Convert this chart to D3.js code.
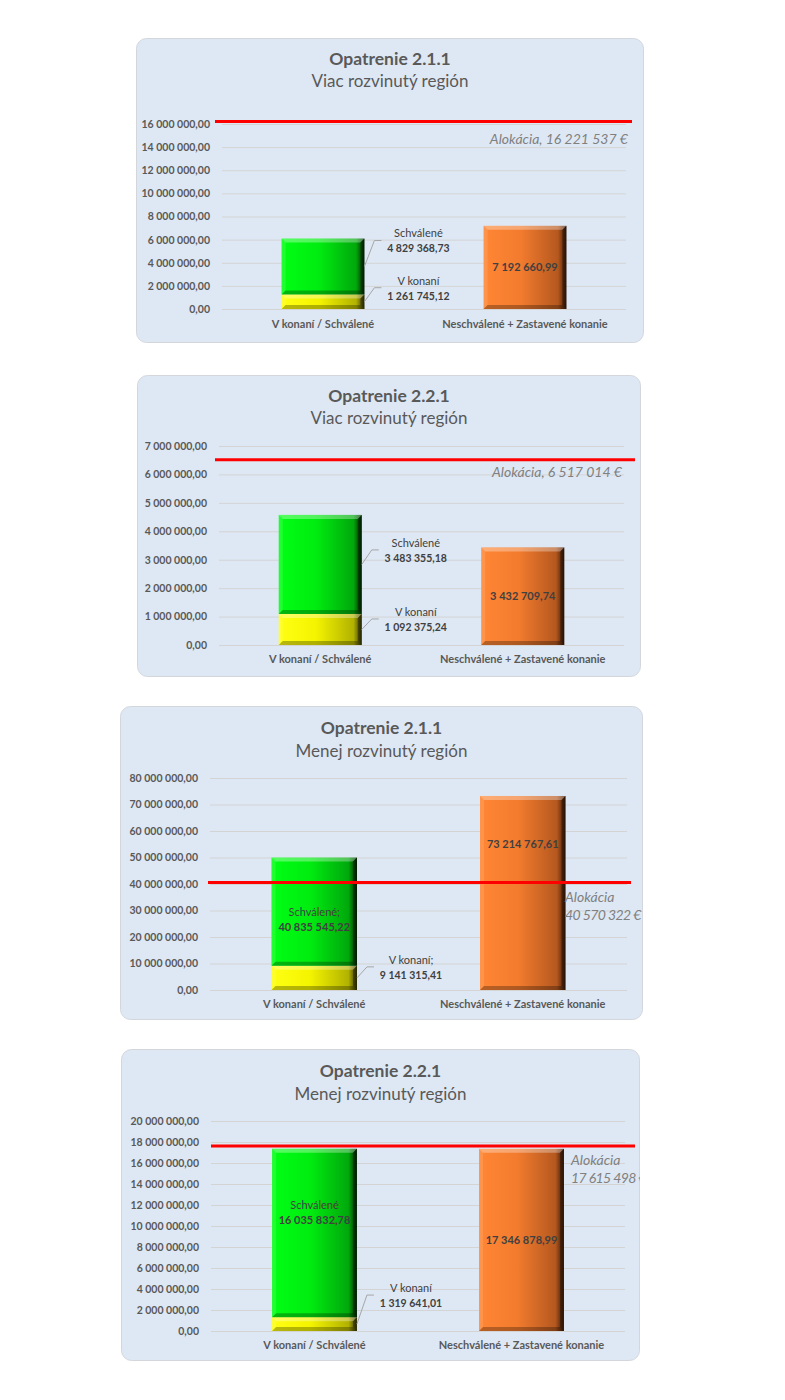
<!DOCTYPE html>
<html>
<head>
<meta charset="utf-8">
<script src="https://cdn.jsdelivr.net/npm/d3@7"></script>
<style>
  html, body { margin: 0; padding: 0; background: #ffffff; }
  svg { display: block; }
  text { font-family: Lato, "Open Sans", sans-serif; }
</style>
</head>
<body>
<svg id="chart" width="785" height="1400"></svg>
<script>
// ---------- DATA ----------
const categories = ["V konaní / Schválené", "Neschválené + Zastavené konanie"];
const titles = ["Opatrenie 2.1.1", "Opatrenie 2.2.1", "Opatrenie 2.1.1", "Opatrenie 2.2.1"];
const subtitles = ["Viac rozvinutý región", "Viac rozvinutý región", "Menej rozvinutý región", "Menej rozvinutý región"];
const vKonani = [1261745.12, 1092375.24, 9141315.41, 1319641.01];
const schvalene = [4829368.73, 3483355.18, 40835545.22, 16035832.78];
const neschvalene = [7192660.99, 3432709.74, 73214767.61, 17346878.99];
const alokacia = [16221537, 6517014, 40570322, 17615498];
const yMax = [16000000, 7000000, 80000000, 20000000];
const yStep = [2000000, 1000000, 10000000, 2000000];
const labelVKonani = "V konaní";
const labelSchvalene = "Schválené";
const labelAlokacia = "Alokácia";

// ---------- LAYOUT (positions / styles only) ----------
const layout = [
  { panel: [136, 38, 507, 304], plot: [222, 626, 124, 309], titleY: 65, subY: 87, xLabY: 328,
    red: [215, 632], aloc: { mode: "one", x: 628, dy: 23 },
    schv: { mode: "out", d: 26 }, vk: { d: 14 }, orangeFrac: 0.5 },
  { panel: [137, 375, 503, 301], plot: [219, 624, 446, 645], titleY: 402, subY: 424, xLabY: 663,
    red: [215, 635], aloc: { mode: "one", x: 622, dy: 17 },
    schv: { mode: "out", d: 14.5 }, vk: { d: 10.5 }, orangeFrac: 0.5 },
  { panel: [120, 706, 522, 313], plot: [210, 627, 778, 990], titleY: 734, subY: 757, xLabY: 1008,
    red: [208, 631], aloc: { mode: "two", x: 565, dy: 20 },
    schv: { mode: "in", frac: 0.42, semi: true }, vk: { d: 11, semi: true }, orangeFrac: 0.75 },
  { panel: [121, 1049, 518, 311], plot: [211, 625, 1121, 1331], titleY: 1077, subY: 1100, xLabY: 1349,
    red: [211, 635], aloc: { mode: "two", x: 571, dy: 19 },
    schv: { mode: "in", frac: 0.62, semi: false }, vk: { d: 29, semi: false }, orangeFrac: 0.5 }
];

const locale = d3.formatLocale({ decimal: ",", thousands: "\u00a0", grouping: [3], currency: ["", "\u00a0€"] });
const fmt2 = locale.format(",.2f");
const fmt0 = locale.format(",.0f");

const svg = d3.select("#chart");
const defs = svg.append("defs");

const palettes = {
  green:  ["#00ff14", "#00ec10", "#00a80c", "#002800"],
  yellow: ["#ffff14", "#f4f400", "#b2b200", "#383800"],
  orange: ["#ff8634", "#f27b2e", "#b5581f", "#3a1a08"]
};
Object.entries(palettes).forEach(([k, c]) => {
  const g = defs.append("linearGradient").attr("id", "g-" + k).attr("x1", 0).attr("x2", 1).attr("y1", 0).attr("y2", 0);
  g.append("stop").attr("offset", "0%").attr("stop-color", c[0]);
  g.append("stop").attr("offset", "45%").attr("stop-color", c[1]);
  g.append("stop").attr("offset", "90%").attr("stop-color", c[2]);
  g.append("stop").attr("offset", "100%").attr("stop-color", c[3]);
});

function bevelBar(g, x, y, w, h, pal) {
  const b = Math.min(4, h / 3);
  g.append("rect").attr("x", x).attr("y", y).attr("width", w).attr("height", h).attr("fill", "url(#g-" + pal + ")");
  const poly = (pts, fill, op) => g.append("polygon").attr("points", pts.map(p => p.join(",")).join(" ")).attr("fill", fill).attr("fill-opacity", op);
  poly([[x, y], [x + w, y], [x + w - b, y + b], [x + b, y + b]], "#ffffff", 0.32);
  poly([[x, y], [x + b, y + b], [x + b, y + h - b], [x, y + h]], "#ffffff", 0.12);
  poly([[x + w, y], [x + w, y + h], [x + w - b, y + h - b], [x + w - b, y + b]], "#000000", 0.35);
  poly([[x, y + h], [x + w, y + h], [x + w - b, y + h - b], [x + b, y + h - b]], "#000000", 0.28);
}

layout.forEach((L, i) => {
  const [px, py, pw, ph] = L.panel;
  const [left, right, top, bottom] = L.plot;
  const g = svg.append("g");

  defs.append("clipPath").attr("id", "clip" + i).append("rect")
    .attr("x", px).attr("y", py).attr("width", pw + 1).attr("height", ph).attr("rx", 10);

  g.append("rect").attr("x", px + 0.5).attr("y", py + 0.5).attr("width", pw).attr("height", ph)
    .attr("rx", 10).attr("fill", "#dee8f4").attr("stroke", "#d3d7dc").attr("stroke-width", 1);

  const cg = g.append("g").attr("clip-path", "url(#clip" + i + ")");

  // titles
  const cx = px + pw / 2 + 0.5;
  cg.append("text").attr("x", cx).attr("y", L.titleY).attr("text-anchor", "middle")
    .attr("font-size", 17.5).attr("font-weight", "bold").attr("fill", "#595959").text(titles[i]);
  cg.append("text").attr("x", cx).attr("y", L.subY).attr("text-anchor", "middle")
    .attr("font-size", 17).attr("fill", "#595959").text(subtitles[i]);

  // scales
  const y = d3.scaleLinear().domain([0, yMax[i]]).range([bottom, top]);
  const x = d3.scaleBand().domain(categories).range([left, right]).paddingInner(0.59).paddingOuter(0.295);

  // grid + y-axis
  const ticks = d3.range(0, yMax[i] + yStep[i] / 2, yStep[i]);
  const yAxis = d3.axisLeft(y).tickValues(ticks).tickFormat(fmt2).tickSize(-(right - left)).tickPadding(12);
  const ag = cg.append("g").attr("transform", `translate(${left},0)`).call(yAxis);
  ag.select(".domain").remove();
  ag.selectAll(".tick line").attr("stroke", "#d4d4d4").attr("stroke-width", 1);
  ag.selectAll(".tick text").attr("fill", "#595959").attr("font-size", 10.5).attr("font-weight", "bold")
    .attr("font-family", "Lato, sans-serif");

  // x labels
  categories.forEach(c => {
    cg.append("text").attr("x", x(c) + x.bandwidth() / 2).attr("y", L.xLabY).attr("text-anchor", "middle")
      .attr("font-size", 11).attr("font-weight", "bold").attr("fill", "#595959").text(c);
  });

  // bars
  const bw = x.bandwidth();
  const x0 = x(categories[0]), x1 = x(categories[1]);
  const yvk = y(vKonani[i]);
  const ytot = y(vKonani[i] + schvalene[i]);
  bevelBar(cg, x0, yvk, bw, bottom - yvk, "yellow");
  bevelBar(cg, x0, ytot, bw, yvk - ytot, "green");
  const yor = y(neschvalene[i]);
  bevelBar(cg, x1, yor, bw, bottom - yor, "orange");

  // orange label
  const oy = bottom - (bottom - yor) * L.orangeFrac;
  cg.append("text").attr("x", x1 + bw / 2).attr("y", oy + 4).attr("text-anchor", "middle")
    .attr("font-size", 11).attr("font-weight", "bold").attr("fill", "#404040").text(fmt2(neschvalene[i]));

  // outside labels with leader lines
  const outLabel = (midY, d, name, val, semi) => {
    const bx = x0 + bw;
    const ey = midY - d;
    cg.append("polyline").attr("points", `${bx},${midY} ${bx + 10},${ey} ${bx + 17},${ey}`)
      .attr("fill", "none").attr("stroke", "#a6a6a6").attr("stroke-width", 1);
    const tx = bx + 54;
    cg.append("text").attr("x", tx).attr("y", ey - 3).attr("text-anchor", "middle")
      .attr("font-size", 11).attr("fill", "#404040").text(name + (semi ? ";" : ""));
    cg.append("text").attr("x", tx).attr("y", ey + 12).attr("text-anchor", "middle")
      .attr("font-size", 10.5).attr("font-weight", "bold").attr("fill", "#404040").text(fmt2(val));
  };
  outLabel((bottom + yvk) / 2, L.vk.d, labelVKonani, vKonani[i], L.vk.semi);
  if (L.schv.mode === "out") {
    outLabel((yvk + ytot) / 2, L.schv.d, labelSchvalene, schvalene[i], false);
  } else {
    const cyy = yvk - (yvk - ytot) * L.schv.frac;
    cg.append("text").attr("x", x0 + bw / 2).attr("y", cyy - 4).attr("text-anchor", "middle")
      .attr("font-size", 11).attr("fill", "#404040").text(labelSchvalene + (L.schv.semi ? ";" : ""));
    cg.append("text").attr("x", x0 + bw / 2).attr("y", cyy + 11).attr("text-anchor", "middle")
      .attr("font-size", 11).attr("font-weight", "bold").attr("fill", "#404040").text(fmt2(schvalene[i]));
  }

  // allocation line
  const ya = y(alokacia[i]);
  cg.append("line").attr("x1", L.red[0]).attr("x2", L.red[1]).attr("y1", ya).attr("y2", ya)
    .attr("stroke", "#ff0000").attr("stroke-width", 3);
  if (L.aloc.mode === "one") {
    cg.append("text").attr("x", L.aloc.x).attr("y", ya + L.aloc.dy).attr("text-anchor", "end")
      .attr("font-size", 14).attr("font-style", "italic").attr("fill", "#808080")
      .text(labelAlokacia + ", " + fmt0(alokacia[i]) + "\u00a0€");
  } else {
    cg.append("text").attr("x", L.aloc.x).attr("y", ya + L.aloc.dy).attr("text-anchor", "start")
      .attr("font-size", 14).attr("font-style", "italic").attr("fill", "#808080").text(labelAlokacia);
    cg.append("text").attr("x", L.aloc.x).attr("y", ya + L.aloc.dy + 18).attr("text-anchor", "start")
      .attr("font-size", 14).attr("font-style", "italic").attr("fill", "#808080")
      .attr("letter-spacing", -0.6)
      .text(fmt0(alokacia[i]) + "\u00a0€");
  }
});
</script>
</body>
</html>
